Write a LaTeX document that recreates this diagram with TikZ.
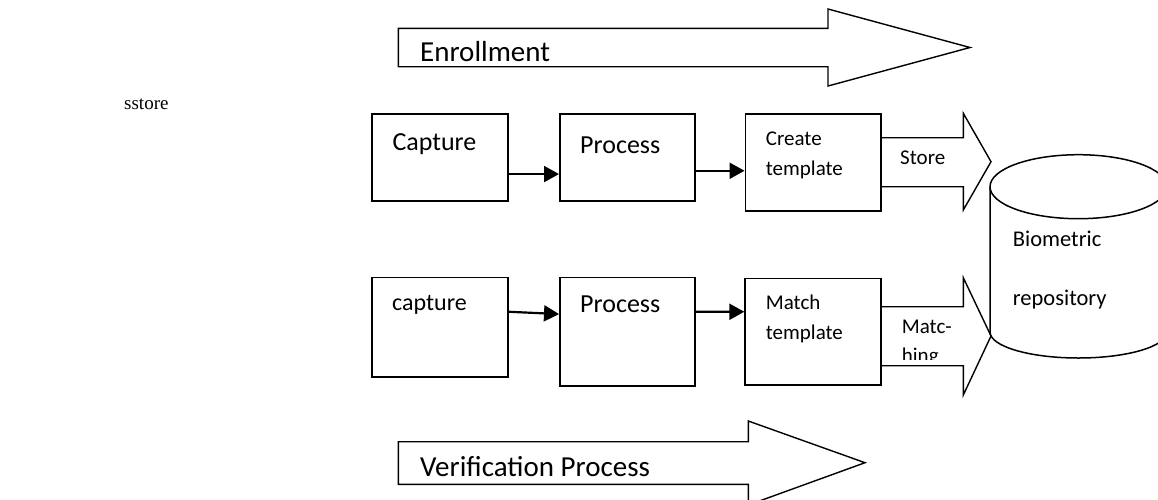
\documentclass[tikz,border=0pt]{standalone}
\usepackage{fontspec}
\setmainfont{Carlito}
\newfontfamily\timesf{Liberation Serif}
\usetikzlibrary{arrows.meta}
\tikzset{
  box/.style={draw=black, line width=1.5pt, rectangle, inner sep=0pt, anchor=north west},
  lbl/.style={anchor=base west, inner sep=0pt, text=black},
  conn/.style={line width=2.2pt, -{Triangle[length=15pt,width=16pt]}},
  blk/.style={draw=black, line width=1.4pt, line join=miter},
  big/.style={font=\fontsize{29}{29}\selectfont},
  mid/.style={font=\fontsize{26}{26}\selectfont},
  sml/.style={font=\fontsize{21}{21}\selectfont},
}
\begin{document}
\begin{tikzpicture}[x=1pt,y=-1pt]
\useasboundingbox (0,0) rectangle (1158,499);
\clip (0,0) rectangle (1158,499);

% stray text
\node[lbl, font=\timesf\fontsize{19}{19}\selectfont] (sst) at (124,109) {sstore};

% Enrollment block arrow
\draw[blk] (398.3,28.3) -- (828,28.3) -- (828,9) -- (970,47.5) -- (828,86) -- (828,66.7) -- (398.3,66.7) -- cycle;
\node[lbl, big] (enr) at (420,61.7) {Enrollment};

% Verification block arrow
\draw[blk] (398.3,441.7) -- (748.3,441.7) -- (748.3,421) -- (865,462.7) -- (748.3,505) -- (748.3,484.3) -- (398.3,484.3) -- cycle;
\node[lbl, big] (ver) at (420,476) {Verification Process};

% top row boxes
\node[box, minimum width=136pt, minimum height=86.7pt] (cap) at (371,113.3) {};
\node[box, minimum width=135.3pt, minimum height=86.7pt] (proc) at (559,113.3) {};
\node[box, minimum width=135.8pt, minimum height=96.7pt] (ct) at (744.5,113.3) {};
\node[lbl, mid] (capt) at (392.3,150) {Capture};
\node[lbl, mid] (proct) at (580,153.3) {Process};
\node[lbl, sml] (ct1) at (765.7,145.7) {Create};
\node[lbl, sml] (ct2) at (765.7,175) {template};

% bottom row boxes
\node[box, minimum width=136pt, minimum height=99.3pt] (cap2) at (371,276.7) {};
\node[box, minimum width=135.3pt, minimum height=108.3pt] (proc2) at (559,276.7) {};
\node[box, minimum width=136pt, minimum height=106.6pt] (mt) at (744.3,277.7) {};
\node[lbl, font=\fontsize{24}{24}\selectfont] (cap2t) at (392,310) {capture};
\node[lbl, mid] (proc2t) at (580,312.3) {Process};
\node[lbl, sml] (mt1) at (765.7,309) {Match};
\node[lbl, sml] (mt2) at (765.7,339) {template};

% connectors
\draw[conn] ([yshift=-16.65pt]cap.east) -- ([yshift=-16.65pt]proc.west);
\draw[conn] ([yshift=-13.35pt]proc.east) -- ([yshift=-8.35pt]ct.west);
\draw[conn] ([yshift=15.35pt]cap2.east) -- ([yshift=17.55pt]proc2.west);
\draw[conn] ([yshift=19.85pt]proc2.east) -- ([yshift=20pt]mt.west);

% Store block arrow
\draw[blk] (880.3,137.7) -- (963.3,137.7) -- (963.3,113.3) -- (991,161.7) -- (963.3,210) -- (963.3,186.7) -- (880.3,186.7);
\node[lbl, sml] (sto) at (900,164) {Store};

% Matching block arrow
\draw[blk] (880.3,306.7) -- (963.3,306.7) -- (963.3,277.7) -- (991,336) -- (963.3,395) -- (963.3,365.7) -- (880.3,365.7);
\node[lbl, sml] (mat1) at (901.7,333.3) {Matc-};
\begin{scope}
\clip (890,340) rectangle (960,359.5);
\node[lbl, sml] (mat2) at (901.7,362.3) {hing};
\end{scope}

% cylinder (repository)
\coordinate (cyl) at (1078.4,186.7);
\draw[line width=1.5pt] (cyl) ellipse [x radius=88.4, y radius=32];
\draw[line width=1.5pt] (990,186.7) -- (990,332) arc[start angle=180, end angle=0, x radius=88.4, y radius=26] -- (1166.8,186.7);
\node[lbl, font=\fontsize{22.5}{22.5}\selectfont] (bio1) at (1012.7,246.7) {Biometric};
\node[lbl, font=\fontsize{22.5}{22.5}\selectfont] (bio2) at (1012.7,305) {repository};
\end{tikzpicture}
\end{document}
